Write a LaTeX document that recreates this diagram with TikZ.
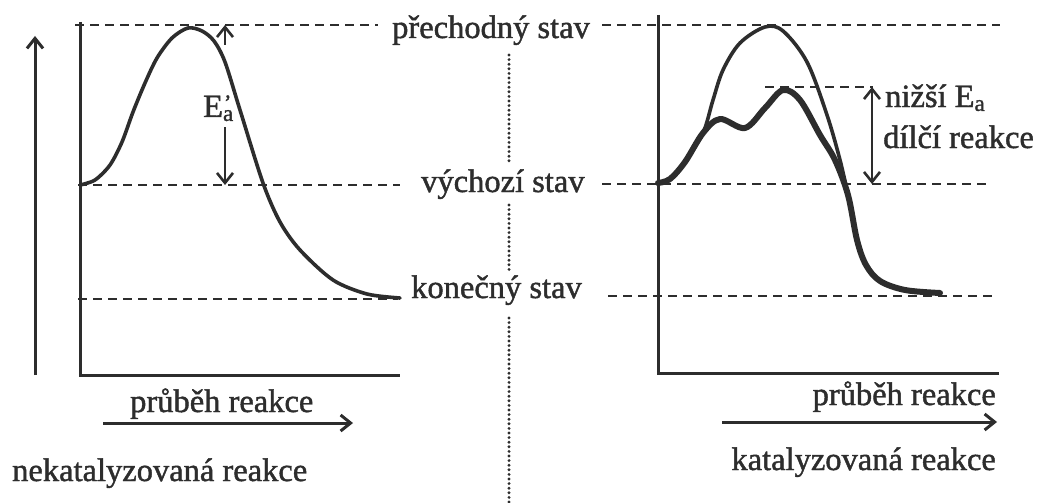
\documentclass[tikz,border=0pt]{standalone}
\usepackage{fontspec}
\setmainfont{Liberation Serif}[FakeBold=1.3]
\usetikzlibrary{arrows.meta}
\definecolor{ink}{RGB}{45,45,45}
\begin{document}
\begin{tikzpicture}[x=1pt,y=-1pt,
  axisline/.style={draw=ink,line width=3pt},
  dashline/.style={draw=ink,line width=2.8pt,dash pattern=on 9pt off 6pt},
  dotline/.style={draw=ink,line width=3.2pt,line cap=round,dash pattern=on 0pt off 4.6pt},
  curve/.style={draw=ink,line width=3.6pt,line join=round,line cap=round},
  thickcurve/.style={draw=ink,line width=6pt,line join=round,line cap=round},
  barb/.style={-{Straight Barb[length=10pt,width=16pt]}},
  dbarb/.style={{Straight Barb[length=10pt,width=16pt]}-{Straight Barb[length=10pt,width=16pt]}},
  lbl/.style={inner sep=0pt,text=ink,font=\fontsize{32.5}{35}\selectfont}
]
\useasboundingbox (0,0) rectangle (1042,503);
\fill[white] (0,0) rectangle (1042,503);

% ---------- middle labels ----------
\node[lbl,anchor=base west] (prech) at (392,38) {přechodný stav};
\node[lbl,anchor=base west] (vych) at (421,192) {výchozí stav};
\node[lbl,anchor=base west] (kon) at (411,298) {konečný stav};

% ---------- coordinates ----------
\coordinate (LT0) at (75,25);   \coordinate (LT1) at (378,25);
\coordinate (RT0) at (602,25);  \coordinate (RT1) at (1000,25);
\coordinate (LM0) at (78,185);  \coordinate (LM1) at (400,185);
\coordinate (RM0) at (602,184); \coordinate (RM1) at (990,184);
\coordinate (LB0) at (78,299);  \coordinate (LB1) at (398,299);
\coordinate (RB0) at (608,296); \coordinate (RB1) at (993,296);
\coordinate (RS0) at (765,87);  \coordinate (RS1) at (873,87);

% dashed levels
\draw[dashline] (LT0) -- (LT1);
\draw[dashline] (RT0) -- (RT1);
\draw[dashline] (LM0) -- (LM1);
\draw[dashline] (RM0) -- (RM1);
\draw[dashline] (LB0) -- (LB1);
\draw[dashline] (RB0) -- (RB1);
\draw[dashline] (RS0) -- (RS1);

% dotted separator
\coordinate (D0) at (509,55);  \coordinate (D1) at (509,165);
\coordinate (D2) at (509,205); \coordinate (D3) at (509,272);
\coordinate (D4) at (509,318); \coordinate (D5) at (509,503);
\draw[dotline] (D0) -- (D1);
\draw[dotline] (D2) -- (D3);
\draw[dotline] (D4) -- (D5);

% ---------- axes ----------
\coordinate (LA0) at (80,22); \coordinate (LA1) at (80,375); \coordinate (LA2) at (400,375);
\coordinate (RA0) at (658,15); \coordinate (RA1) at (658,373); \coordinate (RA2) at (999,373);
\draw[axisline] (LA0) -- (LA1) -- (LA2);
\draw[axisline] (RA0) -- (RA1) -- (RA2);

% energy arrow
\coordinate (Y0) at (35,375); \coordinate (Y1) at (35,36);
\draw[axisline,barb] (Y0) -- (Y1);

% ---------- left curve ----------
\draw[curve] plot[smooth,tension=0.5] coordinates {
  (80,185) (95,180) (110,165) (122,142) (133,112) (145,83) (157,58) (172,38) (188,28)
  (202,31) (214,41) (225,62) (240,110) (263,183) (280,222) (300,250) (333,280) (367,294) (400,298)};

% E_a arrows and label
\coordinate (EU0) at (225,45); \coordinate (EU1) at (225,25);
\coordinate (ED0) at (225,127); \coordinate (ED1) at (225,185);
\draw[axisline,line width=2.6pt,barb] (EU0) -- (EU1);
\draw[axisline,line width=2.6pt,barb] (ED0) -- (ED1);
\node[lbl,anchor=base west] (ea) at (203,117)
  {E\rlap{\kern1pt\raisebox{7pt}{\fontsize{22}{22}\selectfont'}}\raisebox{-0.12em}{\fontsize{23}{24}\selectfont a}};

% ---------- right curves ----------
\draw[thickcurve] plot[smooth,tension=0.55] coordinates {
  (658,183) (670,179) (685,162) (703,133) (720,119) (745,128) (765,108) (783,90)
  (800,100) (820,135) (835,160) (848,195) (857,240) (866,265) (880,281) (905,290) (940,293)};
\draw[curve] plot[smooth,tension=0.55] coordinates {
  (685,162) (703,133) (713,100) (723,70) (740,43) (765,27) (783,31)
  (807,62) (827,115) (840,160) (848,195)};

% double arrow and labels
\coordinate (DA0) at (872,87); \coordinate (DA1) at (872,184);
\draw[axisline,line width=2.6pt,dbarb] (DA0) -- (DA1);
\node[lbl,anchor=base west] (nizsi) at (885,107)
  {nižší E\raisebox{-0.12em}{\fontsize{23}{24}\selectfont a}};
\node[lbl,anchor=base west] (dilci) at (883,148) {dílčí reakce};

% ---------- bottom ----------
\node[lbl,anchor=base west] (prubL) at (130,412) {průběh reakce};
\coordinate (PL0) at (103,423); \coordinate (PL1) at (353,423);
\draw[axisline,barb] (PL0) -- (PL1);
\node[lbl,anchor=base east] (prubR) at (996,405) {průběh reakce};
\coordinate (PR0) at (722,422); \coordinate (PR1) at (997,422);
\draw[axisline,barb] (PR0) -- (PR1);

\node[lbl,anchor=base west] (nekat) at (12,481) {nekatalyzovaná reakce};
\node[lbl,anchor=base east] (kat) at (996,470) {katalyzovaná reakce};
\end{tikzpicture}
\end{document}
